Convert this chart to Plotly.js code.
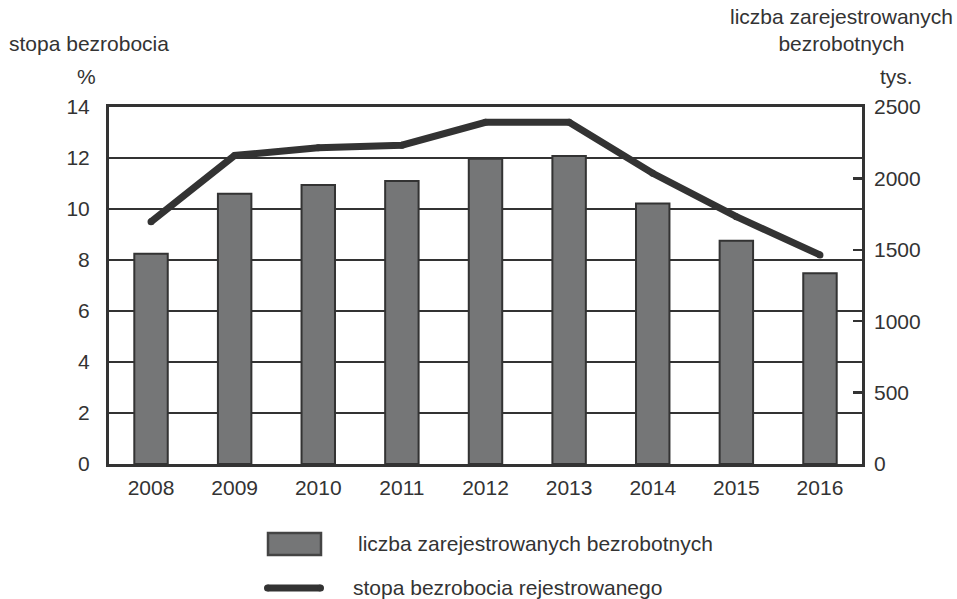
<!DOCTYPE html>
<html>
<head>
<meta charset="utf-8">
<script src="https://cdn.plot.ly/plotly-3.0.1.min.js"></script>
<style>html,body{margin:0;padding:0;background:#fff;}#chart{width:957px;height:599px;}</style>
</head>
<body>
<div id="chart"></div>
<script>
const years = ['2008','2009','2010','2011','2012','2013','2014','2015','2016'];
const unemployedThousands = [1473, 1892, 1954, 1982, 2137, 2157, 1825, 1563, 1335];
const unemploymentRate = [9.5, 12.1, 12.4, 12.5, 13.4, 13.4, 11.4, 9.7, 8.2];
const leftTicks = [0, 2, 4, 6, 8, 10, 12, 14];
const rightTicks = [0, 500, 1000, 1500, 2000, 2500];

const W = 957, H = 599;
const L = 109, R = 862, T = 107, B = 464;
const px = x => (x - L) / (R - L);
const py = y => (B - y) / (B - T);
const ink = '#333333';
const barGray = '#757677';
const font = {family: 'Liberation Sans, Arial, sans-serif', size: 21, color: ink};

const traces = [
  {
    type: 'scatter', mode: 'lines+markers', x: years, y: unemploymentRate,
    yaxis: 'y', line: {color: ink, width: 7}, marker: {color: ink, size: 7},
    showlegend: false, hoverinfo: 'skip'
  },
  {
    type: 'bar', x: years, y: unemployedThousands, yaxis: 'y2',
    marker: {color: barGray, line: {color: ink, width: 2}},
    showlegend: false, hoverinfo: 'skip'
  }
];

const layout = {
  width: W, height: H,
  margin: {l: L, r: W - R, t: T, b: H - B, pad: 0},
  paper_bgcolor: '#fff', plot_bgcolor: '#fff',
  font: font,
  showlegend: false,
  bargap: 0.6,
  xaxis: {
    type: 'category', showline: true, linecolor: ink, linewidth: 3, mirror: true,
    ticks: '', showgrid: false, tickfont: font, ticklabelstandoff: 3
  },
  yaxis: {
    range: [0, 14], tickvals: leftTicks, ticktext: leftTicks.map(String),
    showgrid: true, gridcolor: ink, gridwidth: 2.5, zeroline: false,
    showline: true, linecolor: ink, linewidth: 3, mirror: true,
    ticks: '', tickfont: font, ticklabelstandoff: 12, fixedrange: true
  },
  yaxis2: {
    range: [0, 2500], tickvals: rightTicks, ticktext: rightTicks.map(String),
    overlaying: 'y', side: 'right', showgrid: false, zeroline: false,
    ticks: 'inside', ticklen: 9, tickwidth: 2.5, tickcolor: ink,
    tickfont: font, ticklabelstandoff: 11, fixedrange: true
  },
  shapes: [
    {type: 'rect', xref: 'paper', yref: 'paper', x0: px(268), x1: px(321), y0: py(555), y1: py(533),
     fillcolor: barGray, line: {color: '#444444', width: 2.5}},
    {type: 'line', xref: 'paper', yref: 'paper', x0: px(267.5), x1: px(320.5), y0: py(588), y1: py(588),
     line: {color: ink, width: 7}},
    {type: 'circle', xref: 'paper', yref: 'paper', x0: px(264), x1: px(271), y0: py(591.5), y1: py(584.5),
     fillcolor: ink, line: {width: 0}},
    {type: 'circle', xref: 'paper', yref: 'paper', x0: px(317), x1: px(324), y0: py(591.5), y1: py(584.5),
     fillcolor: ink, line: {width: 0}}
  ],
  annotations: [
    {text: 'stopa bezrobocia', xref: 'paper', yref: 'paper', x: px(7), y: py(44), xanchor: 'left', yanchor: 'middle', showarrow: false, font: font},
    {text: '%', xref: 'paper', yref: 'paper', x: px(86), y: py(76), xanchor: 'center', yanchor: 'middle', showarrow: false, font: font},
    {text: 'liczba zarejestrowanych<br>bezrobotnych', xref: 'paper', yref: 'paper', x: px(841), y: py(30), xanchor: 'center', yanchor: 'middle', showarrow: false, font: font},
    {text: 'tys.', xref: 'paper', yref: 'paper', x: px(896), y: py(76), xanchor: 'center', yanchor: 'middle', showarrow: false, font: font},
    {text: 'liczba zarejestrowanych bezrobotnych', xref: 'paper', yref: 'paper', x: px(356), y: py(543), xanchor: 'left', yanchor: 'middle', showarrow: false, font: font},
    {text: 'stopa bezrobocia rejestrowanego', xref: 'paper', yref: 'paper', x: px(351), y: py(587), xanchor: 'left', yanchor: 'middle', showarrow: false, font: font}
  ]
};

Plotly.newPlot('chart', traces, layout, {staticPlot: true, displayModeBar: false});
</script>
</body>
</html>
